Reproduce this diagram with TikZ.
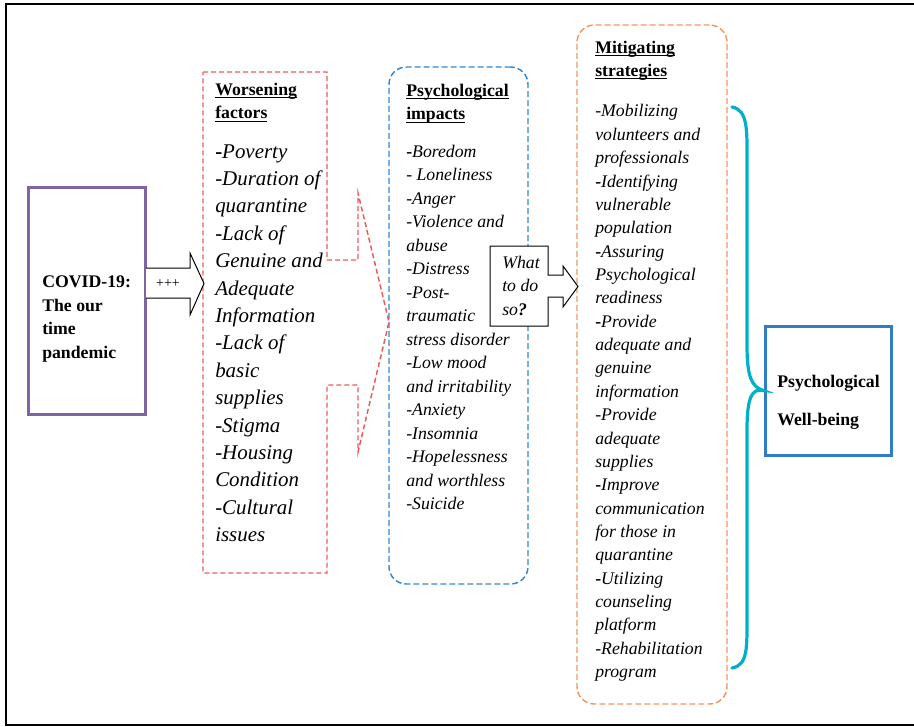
\documentclass[tikz,border=0pt]{standalone}
\usepackage{fontspec}
\setmainfont{Liberation Serif}
\usetikzlibrary{positioning}

\definecolor{covidpurple}{HTML}{8064A2}
\definecolor{wfred}{HTML}{E85A5C}
\definecolor{piblue}{HTML}{2F88D4}
\definecolor{msorange}{HTML}{F4955F}
\definecolor{wbblue}{HTML}{2F7DC6}
\definecolor{bracecyan}{HTML}{00B0CA}

\newcommand{\hdfont}{\fontsize{13.3}{17.6}\selectfont}
\newcommand{\msfont}{\fontsize{13.3}{17.52}\selectfont}
\newcommand{\bigfont}{\fontsize{15.7}{20.55}\selectfont}
\newcommand{\bdash}{\textbf{\upshape -}}
\newcommand{\uhead}[1]{\underline{\raisebox{0pt}[\height][0pt]{\textbf{#1}}}}

\begin{document}
\begin{tikzpicture}[x=0.75pt,y=-0.75pt,
  solid box/.style={draw,line width=2.25pt,inner sep=0pt},
  dash box/.style={draw,line width=1.1pt,dash pattern=on 4.5pt off 2.25pt,
    rounded corners=13pt,inner sep=0pt},
  txt/.style={anchor=north west,align=left,inner sep=0pt,font=\hdfont},
  list/.style={txt,font=\hdfont\itshape}]

  \useasboundingbox (0,0) rectangle (914,726);
  \draw[line width=1.5pt] (920,4.3) -- (6.2,4.3) -- (6.2,725.3) -- (920,725.3);

  % boxes
  \node[solid box,draw=covidpurple,minimum width=87.75pt,minimum height=170pt] (covid) at (87.2,301) {};
  \node[dash box,draw=piblue,minimum width=104.25pt,minimum height=387.75pt] (impacts) at (458.5,325.5) {};
  \node[dash box,draw=msorange,minimum width=112.5pt,minimum height=509.25pt] (mitig) at (652,364.5) {};
  \node[solid box,draw=wbblue,minimum width=94.5pt,minimum height=96.75pt] (wellb) at (828,390.5) {};

  % worsening factors callout
  \draw[wfred,line width=1.1pt,dash pattern=on 3.75pt off 2.25pt]
    (203,72) -- (327,72) -- (327,260) -- (358,260) -- (358,193) -- (389,322)
    -- (358,452) -- (358,385) -- (327,385) -- (327,573) -- (203,573) -- cycle;

  % block arrows
  \draw[fill=white,line width=0.75pt] (146,268) -- (190,268) -- (190,253) -- (204,283.5)
    -- (190,315) -- (190,298) -- (146,298);
  \node[inner sep=0pt,font=\fontsize{10.5}{12}\selectfont] (plus) at (168,283.5) {+++};
  \draw[fill=white,line width=0.75pt] (490,246) -- (548,246) -- (548,275) -- (563,275)
    -- (563,266) -- (578,286.5) -- (563,307) -- (563,297) -- (548,297) -- (548,326)
    -- (490,326) -- cycle;

  % brace
  \coordinate (bt) at (732,107);
  \coordinate (bb) at (732,668);
  \draw[bracecyan,line width=2.4pt,line cap=round]
    (bt) .. controls (748,110) and (747,130) .. (747,160) -- (747,345)
    .. controls (747,378) and (752,387) .. (wellb.west)
    .. controls (752,388) and (747,397) .. (747,430) -- (747,615)
    .. controls (747,648) and (748,665) .. (bb);

  % texts
  \node[txt,font=\hdfont\bfseries] (covidtxt) at (42,275.8) {COVID-19:\\The our\\time\\pandemic};
  \node[txt] (wfhead) at (215,82.9) {\uhead{Worsening}\\\uhead{factors}};
  \node[list,font=\bigfont\itshape] (wflist) at (215,144.2)
    {\bdash Poverty\\-Duration of\\quarantine\\-Lack of\\Genuine and\\Adequate\\Information\\
     -Lack of\\basic\\supplies\\-Stigma\\-Housing\\Condition\\-Cultural\\issues};
  \node[txt] (pihead) at (406,83.9) {\uhead{Psychological}\\\uhead{impacts}};
  \node[list] (pilist) at (406,144.9)
    {\bdash Boredom\\- Loneliness\\-Anger\\-Violence and\\abuse\\-Distress\\-Post-\\traumatic\\
     stress disorder\\-Low mood\\and irritability\\-Anxiety\\-Insomnia\\-Hopelessness\\
     and worthless\\-Suicide};
  \node[list] (whattxt) at (502,255.9) {What\\to do\\so\textbf{?}};
  \node[txt] (mshead) at (595,40.8) {\uhead{Mitigating}\\\uhead{strategies}};
  \node[list,font=\msfont\itshape] (mslist) at (595,104.4)
    {-Mobilizing\\volunteers and\\professionals\\\bdash Identifying\\vulnerable\\population\\
     \bdash Assuring\\Psychological\\readiness\\\bdash Provide\\adequate and\\genuine\\
     information\\-Provide\\adequate\\supplies\\\bdash Improve\\communication\\for those in\\
     quarantine\\\bdash Utilizing\\counseling\\platform\\-Rehabilitation\\program};
  \node[txt,font=\fontsize{13.3}{28.5}\selectfont\bfseries] (wbtxt) at (777,374.8)
    {Psychological\\Well-being};

\end{tikzpicture}
\end{document}
